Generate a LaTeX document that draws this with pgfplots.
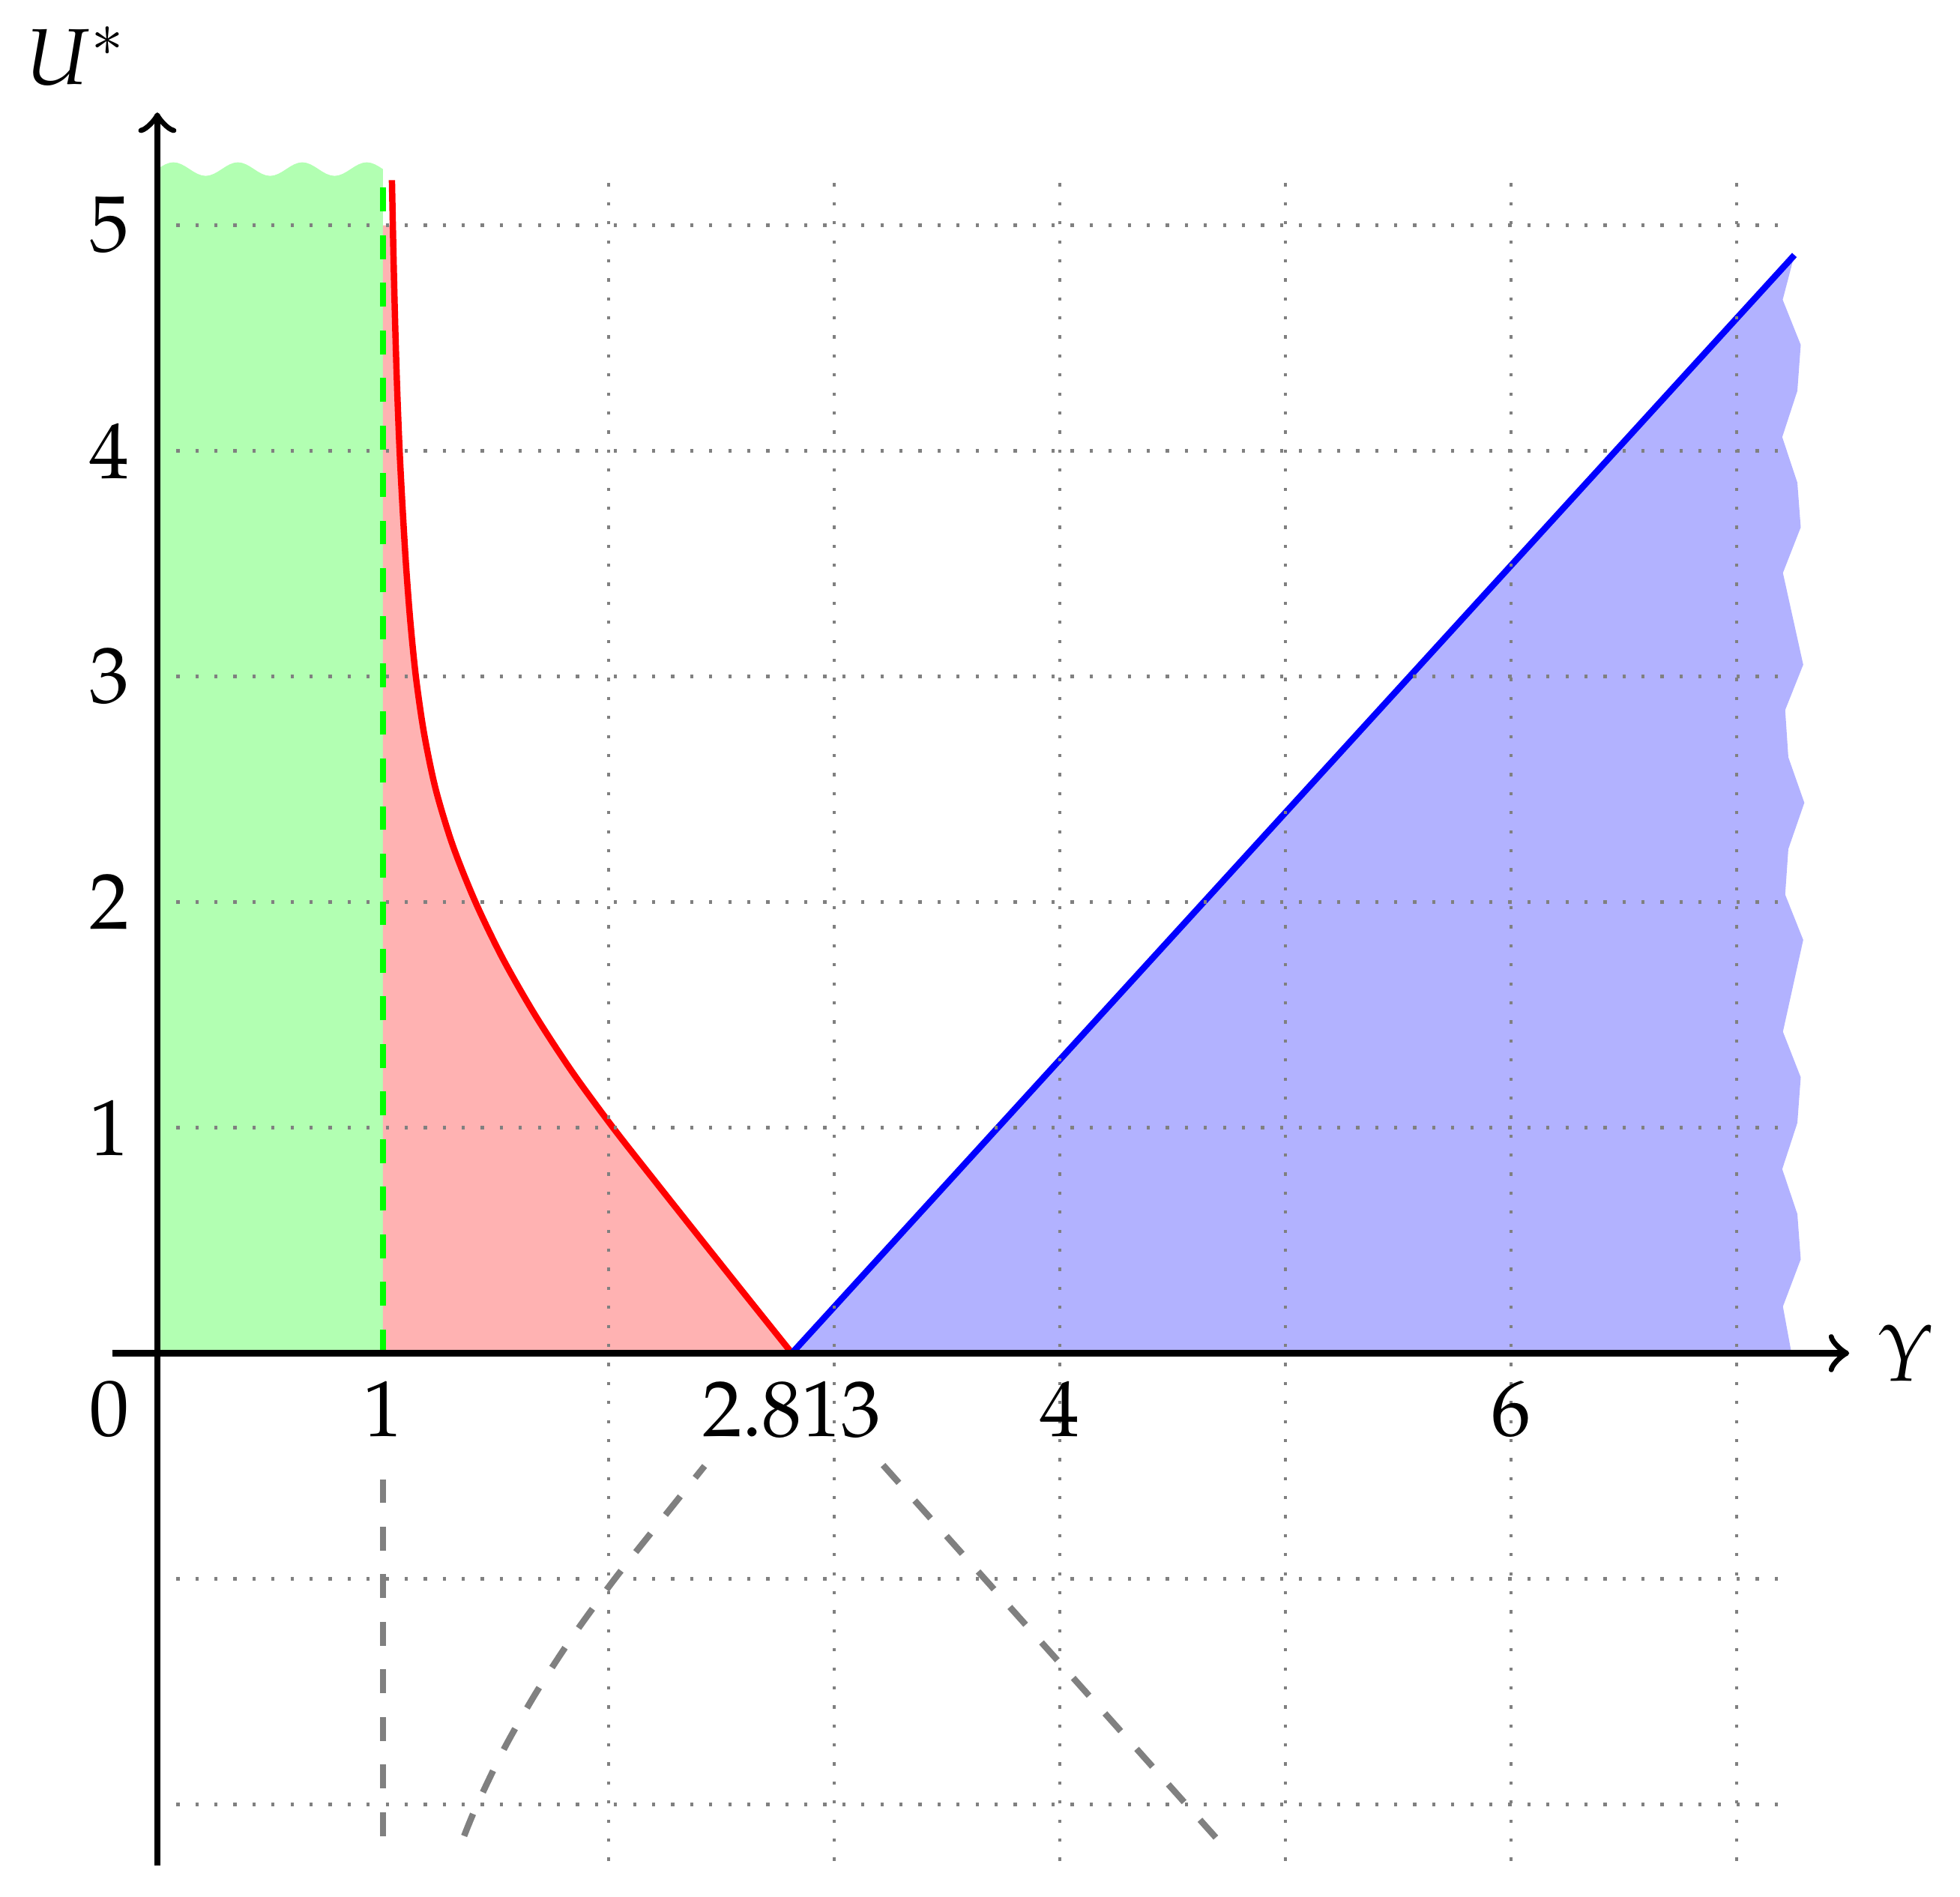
\documentclass[border=0pt]{standalone}
\usepackage{amsmath}
\usepackage{mathpazo}
\usepackage{pgfplots}
\pgfplotsset{compat=1.18}
\begin{document}
\begin{tikzpicture}
\begin{axis}[
  x=1cm, y=1cm,
  axis lines=middle,
  axis line style={thick, ->},
  xmin=-0.2, xmax=7.5, ymin=-2.27, ymax=5.5,
  xtick={1,2.813,4,6},
  xticklabels={$1$,$2.813$,$4$,$6$},
  ytick={1,2,3,4,5},
  yticklabels={$1$,$2$,$3$,$4$,$5$},
  major tick length=0pt,
  clip=false,
  axis on top,
]
% green region with wavy top
\addplot[fill=green!30, draw=none] coordinates {
 (0,0) (0,5.249)
 (0.0179,5.2605) (0.0357,5.2702) (0.0536,5.2767) (0.0714,5.279) (0.0893,5.2767) (0.1071,5.2702) (0.125,5.2605)
 (0.1429,5.249) (0.1607,5.2375) (0.1786,5.2278) (0.1964,5.2213) (0.2143,5.219) (0.2321,5.2213) (0.25,5.2278) (0.2679,5.2375)
 (0.2857,5.249) (0.3036,5.2605) (0.3214,5.2702) (0.3393,5.2767) (0.3571,5.279) (0.375,5.2767) (0.3929,5.2702) (0.4107,5.2605)
 (0.4286,5.249) (0.4464,5.2375) (0.4643,5.2278) (0.4821,5.2213) (0.5,5.219) (0.5179,5.2213) (0.5357,5.2278) (0.5536,5.2375)
 (0.5714,5.249) (0.5893,5.2605) (0.6071,5.2702) (0.625,5.2767) (0.6429,5.279) (0.6607,5.2767) (0.6786,5.2702) (0.6964,5.2605)
 (0.7143,5.249) (0.7321,5.2375) (0.75,5.2278) (0.7679,5.2213) (0.7857,5.219) (0.8036,5.2213) (0.8214,5.2278) (0.8393,5.2375)
 (0.8571,5.249) (0.875,5.2605) (0.8929,5.2702) (0.9107,5.2767) (0.9286,5.279) (0.9464,5.2767) (0.9643,5.2702) (0.9821,5.2605)
 (1,5.249) (1,0)} -- cycle;
% red region
\addplot[fill=red!30, draw=none] coordinates {
 (1,0) (1,5) (1.044,5.00) (1.0495,4.75) (1.056,4.50) (1.064,4.25) (1.074,4.00) (1.087,3.75)
 (1.102,3.50) (1.121,3.25) (1.146,3.00) (1.182,2.75) (1.234,2.50) (1.310,2.25) (1.410,2.00)
 (1.531,1.75) (1.674,1.50) (1.837,1.25) (2.020,1.00) (2.216,0.75) (2.414,0.50) (2.613,0.25) (2.813,0)} -- cycle;
% blue region with torn right edge
\addplot[fill=blue!30, draw=none] coordinates {
 (2.813,0) (7.257,4.868) (7.205,4.670) (7.285,4.470) (7.270,4.266) (7.203,4.061) (7.270,3.859)
 (7.285,3.661) (7.206,3.459) (7.296,3.052) (7.216,2.851) (7.230,2.642) (7.301,2.440) (7.230,2.235)
 (7.216,2.033) (7.296,1.832) (7.206,1.425) (7.285,1.223) (7.270,1.021) (7.203,0.816) (7.270,0.617)
 (7.285,0.416) (7.206,0.207) (7.244,0)} -- cycle;
% lines
\addplot[thick, dashed, green] coordinates {(1,0) (1,5.2)};
\addplot[thick, red, smooth] coordinates {
 (1.040,5.20) (1.044,5.00) (1.0495,4.75) (1.056,4.50) (1.064,4.25) (1.074,4.00) (1.087,3.75)
 (1.102,3.50) (1.121,3.25) (1.146,3.00) (1.182,2.75) (1.234,2.50) (1.310,2.25) (1.410,2.00)
 (1.531,1.75) (1.674,1.50) (1.837,1.25) (2.020,1.00) (2.216,0.75) (2.414,0.50) (2.613,0.25) (2.813,0)};
\addplot[thick, blue] coordinates {(2.813,0) (7.257,4.868)};
% gray dashed reflections
\addplot[thick, dashed, gray] coordinates {(1,-2.14) (1,-0.5)};
\addplot[thick, dashed, gray, smooth] coordinates {
 (1.360,-2.14) (1.418,-2.00) (1.539,-1.75) (1.682,-1.50) (1.845,-1.25) (2.028,-1.00)
 (2.226,-0.75) (2.426,-0.50)};
\addplot[thick, dashed, gray] coordinates {(3.217,-0.496) (4.693,-2.148)};
% grid
\pgfplotsinvokeforeach{2,...,7}{
  \draw[gray, dotted] (axis cs:#1,-2.25) -- (axis cs:#1,5.2);
}
\pgfplotsinvokeforeach{-2,-1,1,2,3,4,5}{
  \draw[gray, dotted] (axis cs:0,#1) -- (axis cs:7.2,#1);
}
% labels
\node at (axis cs:-0.355,5.75) {$U^*$};
\node at (axis cs:7.754,0) {$\varUpsilon$};
\node[anchor=north east] at (axis cs:0,0) {$0$};
\path (axis cs:0,-2.41);
\end{axis}
\end{tikzpicture}
\end{document}
